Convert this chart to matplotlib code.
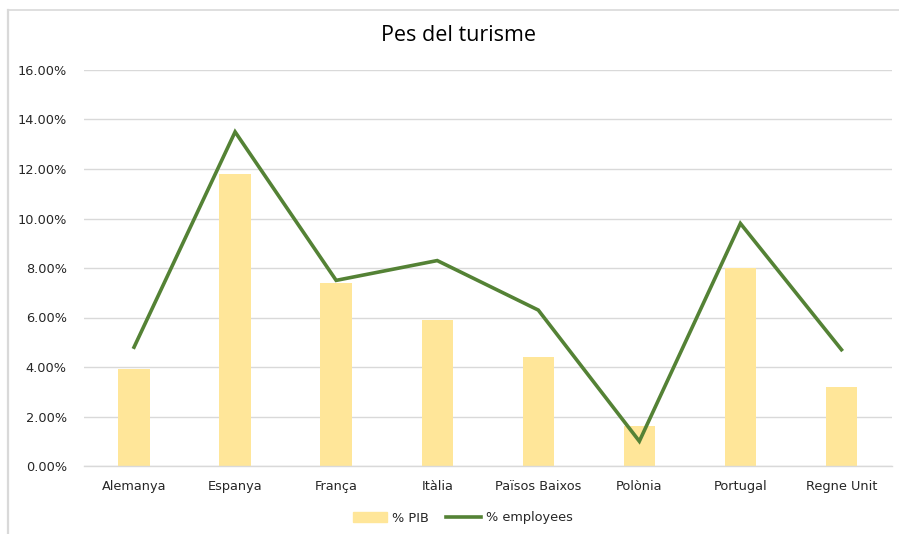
import matplotlib
matplotlib.use("Agg")
import matplotlib.pyplot as plt
from matplotlib.lines import Line2D
from matplotlib.ticker import FuncFormatter

categories = ["Alemanya", "Espanya", "França", "Itàlia", "Països Baixos", "Polònia", "Portugal", "Regne Unit"]
pib = [0.039, 0.118, 0.074, 0.059, 0.044, 0.016, 0.080, 0.032]
employees = [0.048, 0.135, 0.075, 0.083, 0.063, 0.010, 0.098, 0.047]
yticks = [0.0, 0.02, 0.04, 0.06, 0.08, 0.10, 0.12, 0.14, 0.16]

plt.rcParams['font.family'] = ['DejaVu Sans']

W, H = 899, 534
fig = plt.figure(figsize=(W / 100, H / 100), dpi=100)
ax = fig.add_axes([83.5 / W, 1 - 466 / H, (892 - 83.5) / W, (466 - 70) / H])

x = list(range(len(categories)))
ax.bar(x, pib, width=0.31, color="#FFE699", label="% PIB", zorder=2)
ax.plot(x, employees, color="#548235", linewidth=2.6, label="% employees", zorder=3,
        solid_joinstyle="miter")

ax.set_xlim(-0.5, len(categories) - 0.5)
ax.set_ylim(0, 0.16)
ax.set_yticks(yticks)
ax.yaxis.set_major_formatter(FuncFormatter(lambda v, p: f"{v * 100:.2f}%"))
ax.set_xticks(x)
ax.set_xticklabels(categories)
ax.grid(axis="y", color="#D9D9D9", linewidth=1.0, zorder=0)
ax.set_axisbelow(True)
for s in ["top", "right", "left"]:
    ax.spines[s].set_visible(False)
ax.spines["bottom"].set_color("#D9D9D9")
ax.spines["bottom"].set_linewidth(1.0)
ax.tick_params(axis="both", length=0, labelsize=9.3, labelcolor="#262626")
ax.tick_params(axis="x", pad=10)
ax.tick_params(axis="y", pad=12)

fig.text(459 / W, 1 - 36 / H, "Pes del turisme", ha="center", va="center",
         fontsize=15.5, color="#000000", family=["Open Sans", "DejaVu Sans"])

handles = [plt.Rectangle((0, 0), 1, 1, color="#FFE699"),
           Line2D([0], [0], color="#548235", linewidth=2.6)]
fig.legend(handles, ["% PIB", "% employees"], loc="center",
           bbox_to_anchor=(462.5 / W, 1 - 518 / H), ncol=2, frameon=False,
           fontsize=9.3, handlelength=2.7, columnspacing=1.35, handletextpad=0.35,
           labelcolor="#262626")

# chart frame lines (top & left)
fig.add_artist(Line2D([7.5 / W, 1.0], [1 - 9.5 / H, 1 - 9.5 / H], color="#D9D9D9", linewidth=1.2,
                      transform=fig.transFigure))
fig.add_artist(Line2D([7.5 / W, 7.5 / W], [0, 1 - 9.5 / H], color="#D9D9D9", linewidth=1.6,
                      transform=fig.transFigure))

fig.savefig("out.png", dpi=100)
